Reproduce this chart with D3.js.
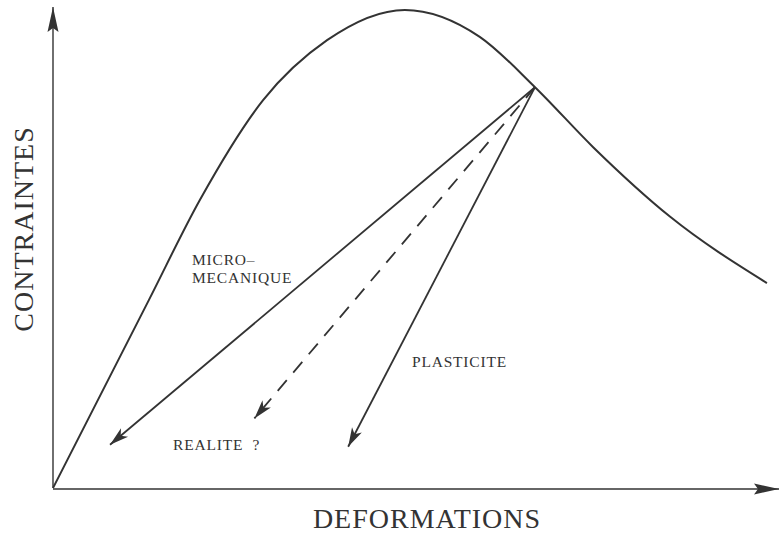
<!DOCTYPE html>
<html>
<head>
<meta charset="utf-8">
<script src="https://cdn.jsdelivr.net/npm/d3@7"></script>
<style>
  html, body { margin: 0; padding: 0; background: #fff; }
  svg { display: block; }
  text { font-family: "Liberation Serif", "DejaVu Serif", serif; fill: #333; }
</style>
</head>
<body>
<svg id="chart" width="780" height="534"></svg>
<script>
// ---- data (schematic units) ----
const strain = [0, 1.32, 2.02, 2.89, 3.77, 4.84, 5.87, 6.63, 7.43, 8.49, 9.82];
const stress = [0, 3.92, 6.00, 8.08, 9.33, 9.96, 9.40, 8.35, 7.10, 5.65, 4.27];
const unloadStart = [6.63, 8.35];
const unloadNames = ["MICRO-MECANIQUE", "REALITE", "PLASTICITE"];
const unloadEndX = [0.784, 2.77, 4.06];
const unloadEndY = [0.90, 1.45, 0.86];
const unloadDashed = [false, true, false];
const xTitle = "DEFORMATIONS";
const yTitle = "CONTRAINTES";

// ---- scales ----
const x = d3.scaleLinear().domain([0, 10]).range([53, 780]);
const y = d3.scaleLinear().domain([0, 10]).range([488, 8]);

const svg = d3.select("#chart");
const ink = "#333";

const defs = svg.append("defs");
defs.append("marker")
  .attr("id", "head").attr("markerUnits", "userSpaceOnUse")
  .attr("viewBox", "-20 -7 22 14").attr("refX", 0).attr("refY", 0)
  .attr("markerWidth", 22).attr("markerHeight", 14).attr("orient", "auto")
  .append("path").attr("d", "M0,0 L-19,-5.5 L-14,0 L-19,5.5 Z").attr("fill", ink);
defs.append("marker")
  .attr("id", "axhead").attr("markerUnits", "userSpaceOnUse")
  .attr("viewBox", "-28 -8 30 16").attr("refX", 0).attr("refY", 0)
  .attr("markerWidth", 30).attr("markerHeight", 16).attr("orient", "auto")
  .append("path").attr("d", "M0,0 L-25,-5.5 L-21,0 L-25,5.5 Z").attr("fill", ink);

// ---- axes ----
const [x0, x1] = x.range();
const [y0, y1] = y.range();
svg.append("line").attr("x1", x0).attr("y1", y0).attr("x2", x0).attr("y2", y1 - 1)
  .attr("stroke", ink).attr("stroke-width", 1.4).attr("marker-end", "url(#axhead)");
svg.append("line").attr("x1", x0).attr("y1", y0 + 1).attr("x2", x1 - 1).attr("y2", y0 + 1)
  .attr("stroke", ink).attr("stroke-width", 1.4).attr("marker-end", "url(#axhead)");

// ---- curve ----
const pts = strain.map((s, i) => [s, stress[i]]);
svg.append("path")
  .datum(pts)
  .attr("fill", "none").attr("stroke", ink).attr("stroke-width", 2)
  .attr("d", d3.line().x(d => x(d[0])).y(d => y(d[1])).curve(d3.curveMonotoneX));

// ---- unloading arrows ----
unloadNames.forEach((n, i) => {
  svg.append("line")
    .attr("x1", x(unloadStart[0])).attr("y1", y(unloadStart[1]))
    .attr("x2", x(unloadEndX[i])).attr("y2", y(unloadEndY[i]))
    .attr("stroke", ink).attr("stroke-width", 1.8)
    .attr("stroke-dasharray", unloadDashed[i] ? "14,10" : null)
    .attr("marker-end", "url(#head)");
});

// ---- labels ----
const lab = (xp, yp, t) => svg.append("text").attr("x", xp).attr("y", yp)
  .attr("font-size", 15.5).attr("letter-spacing", 0.8).attr("xml:space", "preserve").text(t);
lab(192, 265, "MICRO–");
lab(192, 283, "MECANIQUE");
lab(173, 450, "REALITE  ?");
lab(412, 367, "PLASTICITE");

svg.append("text").attr("x", 427).attr("y", 528).attr("text-anchor", "middle")
  .attr("font-size", 28).attr("letter-spacing", 1).text(xTitle);
svg.append("text").attr("transform", "translate(33,229) rotate(-90)").attr("text-anchor", "middle")
  .attr("font-size", 28).attr("letter-spacing", 1).text(yTitle);
</script>
</body>
</html>
